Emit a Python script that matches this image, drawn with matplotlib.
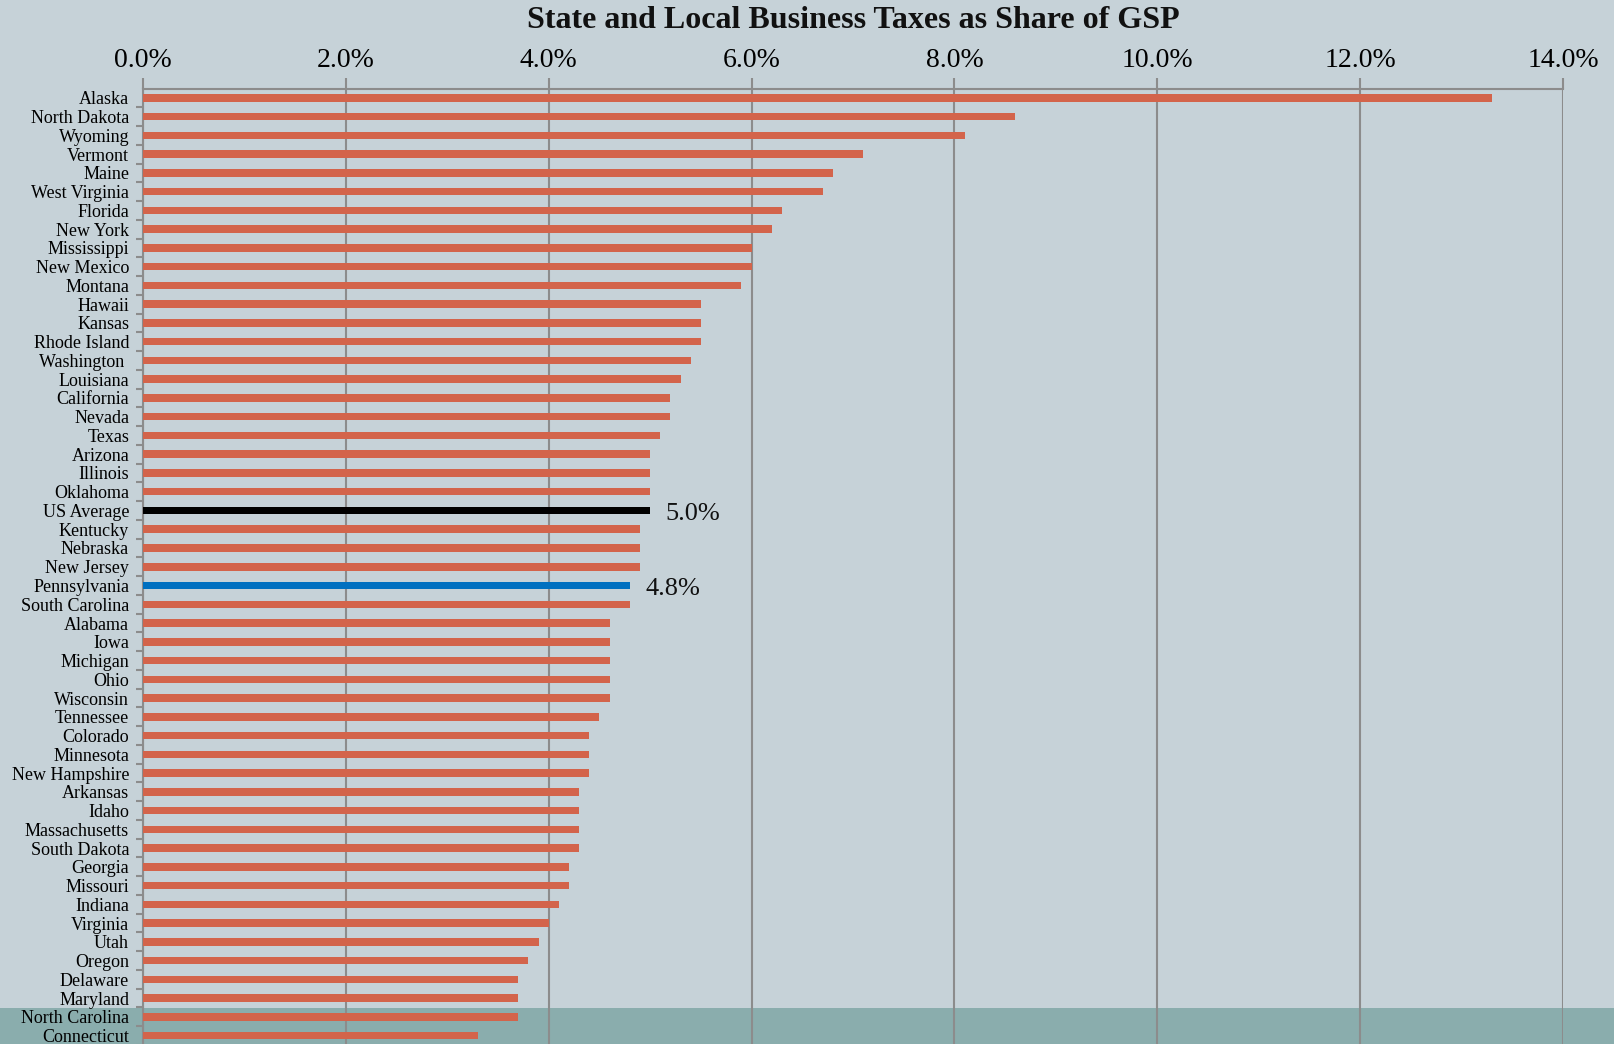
import matplotlib
matplotlib.use("Agg")
import matplotlib.pyplot as plt
from matplotlib.patches import Rectangle
from matplotlib.ticker import FuncFormatter, FixedLocator

states = ["Alaska", "North Dakota", "Wyoming", "Vermont", "Maine", "West Virginia",
          "Florida", "New York", "Mississippi", "New Mexico", "Montana", "Hawaii",
          "Kansas", "Rhode Island", "Washington ", "Louisiana", "California", "Nevada",
          "Texas", "Arizona", "Illinois", "Oklahoma", "US Average", "Kentucky",
          "Nebraska", "New Jersey", "Pennsylvania", "South Carolina", "Alabama", "Iowa",
          "Michigan", "Ohio", "Wisconsin", "Tennessee", "Colorado", "Minnesota",
          "New Hampshire", "Arkansas", "Idaho", "Massachusetts", "South Dakota",
          "Georgia", "Missouri", "Indiana", "Virginia", "Utah", "Oregon", "Delaware",
          "Maryland", "North Carolina", "Connecticut"]
share = [13.3, 8.6, 8.1, 7.1, 6.8, 6.7,
         6.3, 6.2, 6.0, 6.0, 5.9, 5.5,
         5.5, 5.5, 5.4, 5.3, 5.2, 5.2,
         5.1, 5.0, 5.0, 5.0, 5.0, 4.9,
         4.9, 4.9, 4.8, 4.8, 4.6, 4.6,
         4.6, 4.6, 4.6, 4.5, 4.4, 4.4,
         4.4, 4.3, 4.3, 4.3, 4.3,
         4.2, 4.2, 4.1, 4.0, 3.9, 3.8, 3.7,
         3.7, 3.7, 3.3]
highlight = {"US Average": "#000000", "Pennsylvania": "#0070c0"}
xticks = [0, 2, 4, 6, 8, 10, 12, 14]

bg = "#c6d2d8"
bar_color = "#d3644b"
grid_color = "#8c8c8c"

plt.rcParams['font.family'] = ['Liberation Serif', 'DejaVu Serif']

fig = plt.figure(figsize=(16.14, 10.44), dpi=100, facecolor=bg)
# teal band at the bottom of the page, behind the chart
band = Rectangle((0, 0), 1, 36 / 1044, transform=fig.transFigure,
                 facecolor="#8aadad", edgecolor="none", zorder=-5)
fig.patches.append(band)

ax = fig.add_axes([143 / 1614, -1 / 1044, 1420 / 1614, 956.5 / 1044])
ax.set_zorder(1)
ax.set_facecolor("none")

pos = list(range(len(states)))
colors = [highlight.get(s, bar_color) for s in states]
ax.barh(pos, share, height=0.4, color=colors, zorder=3)

for s, v in zip(states, share):
    if s in highlight:
        ax.text(v + 0.15, states.index(s) + 0.2, f"{v:.1f}%", va="center", ha="left",
                fontsize=19, color="#111111", zorder=4)

ax.set_xlim(0, 14)
ax.set_ylim(len(states) - 0.5, -0.5)
ax.xaxis.tick_top()
ax.set_xticks(xticks)
ax.xaxis.set_major_formatter(FuncFormatter(lambda x, p: f"{x:.1f}%"))
ax.tick_params(axis="x", which="major", direction="out", length=8, width=1.5,
               color=grid_color, labelsize=20, pad=3)
ax.grid(axis="x", color=grid_color, linewidth=1.5, zorder=1)

ax.set_yticks(pos)
ax.set_yticklabels(states)
ax.yaxis.set_minor_locator(FixedLocator([p + 0.5 for p in pos]))
ax.tick_params(axis="y", which="major", length=0, labelsize=13, pad=10)
ax.tick_params(axis="y", which="minor", length=5, width=1.5, color=grid_color)

for side in ["bottom", "right"]:
    ax.spines[side].set_visible(False)
ax.spines["top"].set_color(grid_color)
ax.spines["top"].set_linewidth(1.5)
ax.spines["left"].set_color(grid_color)
ax.spines["left"].set_linewidth(1.5)

fig.text(853 / 1614, 1 - 21 / 1044, "State and Local Business Taxes as Share of GSP",
         ha="center", va="center", fontsize=23, fontweight="bold", color="#111111")

fig.savefig("out.png", dpi=100, facecolor=bg)
